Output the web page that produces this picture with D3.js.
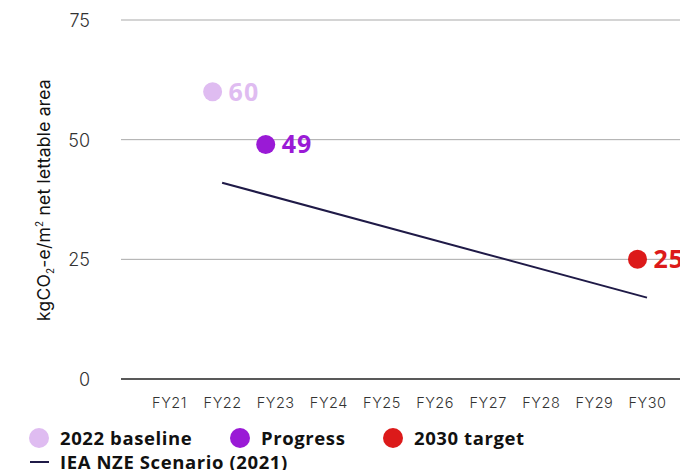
<!DOCTYPE html>
<html>
<head>
<meta charset="utf-8">
<script src="https://cdn.jsdelivr.net/npm/d3@7"></script>
<style>
html,body{margin:0;padding:0;background:#fff;}
svg{display:block;}
</style>
</head>
<body>
<svg id="chart" width="680" height="470"></svg>
<script>
// ---- data ----
const categories = ["FY21","FY22","FY23","FY24","FY25","FY26","FY27","FY28","FY29","FY30"];
const yTicks = [0, 25, 50, 75];
const baselineYear = ["FY22"];
const baselineValue = [60];
const progressYear = ["FY23"];
const progressValue = [49];
const targetYear = ["FY30"];
const targetValue = [25];
const ieaYears = ["FY22","FY30"];
const ieaValues = [41, 17];
const legendLabels = ["2022 baseline","Progress","2030 target","IEA NZE Scenario (2021)"];

// ---- styles ----
const colors = {baseline:"#dfbcf1", progress:"#9a1ad6", target:"#dc1a1a", iea:"#1f1a47"};
const lightFont = "Inter, 'DejaVu Sans', sans-serif";
const boldFont = "'Open Sans', 'Noto Sans', sans-serif";

const svg = d3.select("#chart");
const x = d3.scalePoint().domain(categories).range([169, 647]);
const y = d3.scaleLinear().domain([0, 75]).range([379, 20]);
const plotLeft = 121, plotRight = 680;
const dotShift = -9.5, r = 9.5;

// gridlines
svg.append("g").selectAll("line").data(yTicks.filter(d => d > 0)).join("line")
  .attr("x1", plotLeft).attr("x2", plotRight)
  .attr("y1", d => y(d)).attr("y2", d => y(d))
  .attr("stroke", "#a9a9a9").attr("stroke-width", 1);
// zero line
svg.append("line").attr("x1", plotLeft).attr("x2", plotRight)
  .attr("y1", y(0)).attr("y2", y(0)).attr("stroke", "#222").attr("stroke-width", 1.5);

// y axis labels
const yAxis = d3.axisLeft(y).tickValues(yTicks).tickSize(0).tickPadding(0);
const yg = svg.append("g").attr("transform", "translate(90,0)").call(yAxis);
yg.select(".domain").remove();
yg.selectAll("text").attr("font-family", lightFont).attr("font-weight", 300)
  .attr("font-size", 18).attr("fill", "#333").attr("dy", "0.36em");

// x axis labels
const xAxis = d3.axisBottom(x).tickSize(0).tickPadding(0);
const xg = svg.append("g").attr("transform", "translate(0,398)").call(xAxis);
xg.select(".domain").remove();
xg.selectAll("text").attr("font-family", lightFont).attr("font-weight", 300)
  .attr("font-size", 14.5).attr("fill", "#333").attr("dy", "0.71em")
  .attr("letter-spacing", 0.5);

// y title
const yt = svg.append("text")
  .attr("transform", "translate(50,200) rotate(-90)")
  .attr("text-anchor", "middle")
  .attr("font-family", lightFont).attr("font-weight", 400).attr("font-size", 17.5)
  .attr("letter-spacing", 0.2)
  .attr("fill", "#111");
yt.append("tspan").text("kgCO");
yt.append("tspan").text("2").attr("font-size", 10).attr("dy", 4);
yt.append("tspan").text("-e/m").attr("dy", -4);
yt.append("tspan").text("2").attr("font-size", 10).attr("dy", -7);
yt.append("tspan").text(" net lettable area").attr("dy", 7);

// IEA line
const ieaData = ieaYears.map((c, i) => ({c, v: ieaValues[i]}));
svg.append("path").datum(ieaData)
  .attr("d", d3.line().x(d => x(d.c)).y(d => y(d.v)))
  .attr("fill", "none").attr("stroke", colors.iea).attr("stroke-width", 2);

// dots
function dots(years, values, color) {
  const data = years.map((c, i) => ({c, v: values[i]}));
  const g = svg.append("g");
  g.selectAll("circle").data(data).join("circle")
    .attr("cx", d => x(d.c) + dotShift).attr("cy", d => y(d.v)).attr("r", r)
    .attr("fill", color);
  g.selectAll("text").data(data).join("text")
    .attr("x", d => x(d.c) + dotShift + 16).attr("y", d => y(d.v))
    .attr("dy", "0.36em")
    .attr("font-family", boldFont).attr("font-weight", 700).attr("font-size", 25)
    .attr("letter-spacing", 1)
    .attr("fill", color).text(d => d.v);
}
dots(baselineYear, baselineValue, colors.baseline);
dots(progressYear, progressValue, colors.progress);
dots(targetYear, targetValue, colors.target);

// legend
const legendItems = [
  {label: legendLabels[0], color: colors.baseline, cx: 39},
  {label: legendLabels[1], color: colors.progress, cx: 240},
  {label: legendLabels[2], color: colors.target, cx: 393}
];
const lg = svg.append("g");
legendItems.forEach(it => {
  lg.append("circle").attr("cx", it.cx).attr("cy", 438).attr("r", 10).attr("fill", it.color);
  lg.append("text").attr("x", it.cx + 21).attr("y", 438).attr("dy", "0.36em")
    .attr("font-family", boldFont).attr("font-weight", 700).attr("font-size", 18.5)
    .attr("letter-spacing", 0.6)
    .attr("fill", "#111").text(it.label);
});
lg.append("line").attr("x1", 30).attr("x2", 49).attr("y1", 462).attr("y2", 462)
  .attr("stroke", colors.iea).attr("stroke-width", 2);
lg.append("text").attr("x", 60).attr("y", 462).attr("dy", "0.36em")
  .attr("font-family", boldFont).attr("font-weight", 700).attr("font-size", 18.5)
  .attr("letter-spacing", 0.6)
  .attr("fill", "#111").text(legendLabels[3]);
</script>
</body>
</html>
